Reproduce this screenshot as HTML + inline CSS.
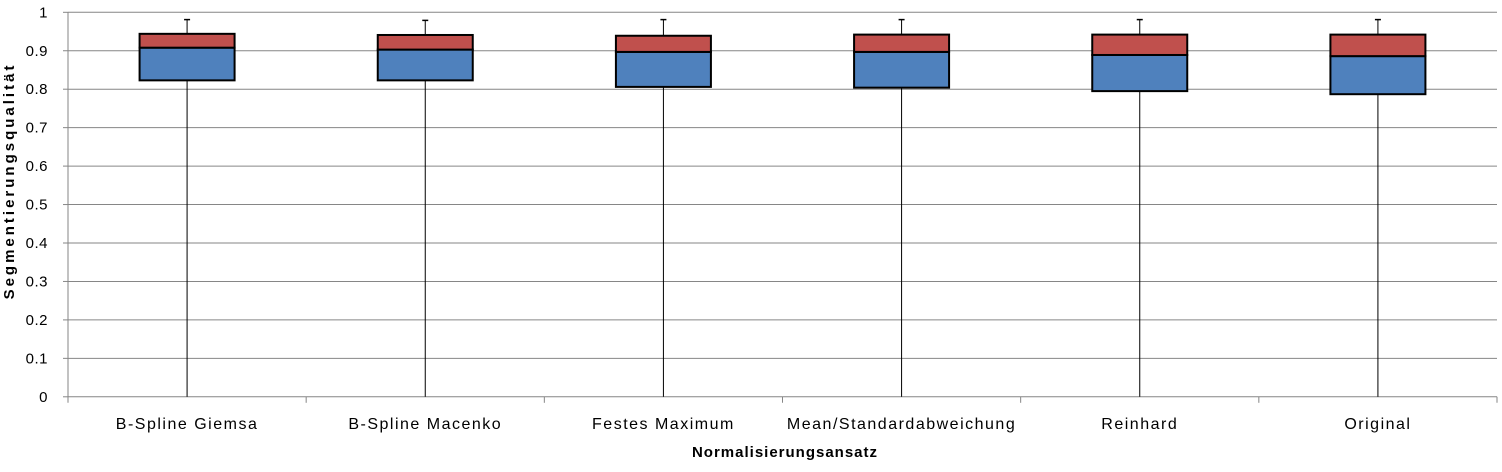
<!DOCTYPE html>
<html><head><meta charset="utf-8"><style>
body{margin:0;background:#fff;}
svg text{font-family:"Liberation Sans",sans-serif;}
</style></head><body>
<svg id="chart" width="1502" height="467" xmlns="http://www.w3.org/2000/svg">
<g id="grid"></g>
<g id="axes"></g>
<g id="boxes"></g>
<text transform="translate(14,181) rotate(-90)" text-anchor="middle" font-size="15" font-weight="bold" letter-spacing="3">Segmentierungsqualität</text>
<text x="785" y="457" text-anchor="middle" font-size="15" font-weight="bold" letter-spacing="1">Normalisierungsansatz</text>
</svg>
<script>
const categories=["B-Spline Giemsa","B-Spline Macenko","Festes Maximum","Mean/Standardabweichung","Reinhard","Original"];
const minVals=[0,0,0,0,0,0];
const q1Vals=[0.823,0.823,0.806,0.804,0.795,0.787];
const medianVals=[0.908,0.903,0.897,0.897,0.889,0.886];
const q3Vals=[0.944,0.941,0.939,0.942,0.942,0.942];
const maxVals=[0.981,0.979,0.981,0.981,0.981,0.981];
const yTicks=[0,0.1,0.2,0.3,0.4,0.5,0.6,0.7,0.8,0.9,1];
const yTickLabels=["0","0.1","0.2","0.3","0.4","0.5","0.6","0.7","0.8","0.9","1"];
const NS="http://www.w3.org/2000/svg";
const L=68,R=1497,T=12.3,B=396.8;
const bw=(R-L)/categories.length;
function y(v){return B-(B-T)*v;}
function x(i){return L+bw*(i+0.5);}
function mk(p,tag,a){const e=document.createElementNS(NS,tag);for(const k in a)e.setAttribute(k,a[k]);p.appendChild(e);return e;}
const grid=document.getElementById('grid'),axes=document.getElementById('axes'),boxes=document.getElementById('boxes');
yTicks.forEach((v,i)=>{
 if(v>0){const g=mk(grid,'line',{x1:L,x2:R,y1:y(v),y2:y(v),stroke:'#868686','stroke-width':1});
 
 }
 const t=mk(axes,'line',{x1:L-5,x2:L,y1:y(v),y2:y(v),stroke:'#868686'});
 
 
 const lb=mk(axes,'text',{x:L-20,y:y(v)+5,'text-anchor':'end','font-size':15,'letter-spacing':0.5});
 lb.textContent=yTickLabels[i];
 
 
});
const ya=mk(axes,'line',{x1:L,x2:L,y1:T,y2:B,stroke:'#868686'});


const xa=mk(axes,'line',{x1:L,x2:R,y1:B,y2:B,stroke:'#868686'});


for(let i=0;i<=categories.length;i++){
 const t=mk(axes,'line',{x1:L+bw*i,x2:L+bw*i,y1:B,y2:B+6,stroke:'#868686'});
 
 
}
const hw=47.5;
categories.forEach((c,i)=>{
 const cx=x(i);
 const w=mk(boxes,'line',{x1:cx,x2:cx,y1:y(maxVals[i]),y2:y(minVals[i]),stroke:'#000','stroke-width':1});
 
 
 const cap=mk(boxes,'line',{x1:cx-3,x2:cx+3,y1:y(maxVals[i]),y2:y(maxVals[i]),stroke:'#000','stroke-width':1.5});
 
 
 const lo=mk(boxes,'rect',{x:cx-hw,y:y(medianVals[i]),width:hw*2,height:y(q1Vals[i])-y(medianVals[i]),fill:'#4f81bd',stroke:'#000','stroke-width':2});
 
 
 const up=mk(boxes,'rect',{x:cx-hw,y:y(q3Vals[i]),width:hw*2,height:y(medianVals[i])-y(q3Vals[i]),fill:'#c0504d',stroke:'#000','stroke-width':2});
 
 
 const lb=mk(axes,'text',{x:cx,y:429,'text-anchor':'middle','font-size':16,'letter-spacing':1.5});
 lb.textContent=c;
 
 
});
</script>
</body></html>
